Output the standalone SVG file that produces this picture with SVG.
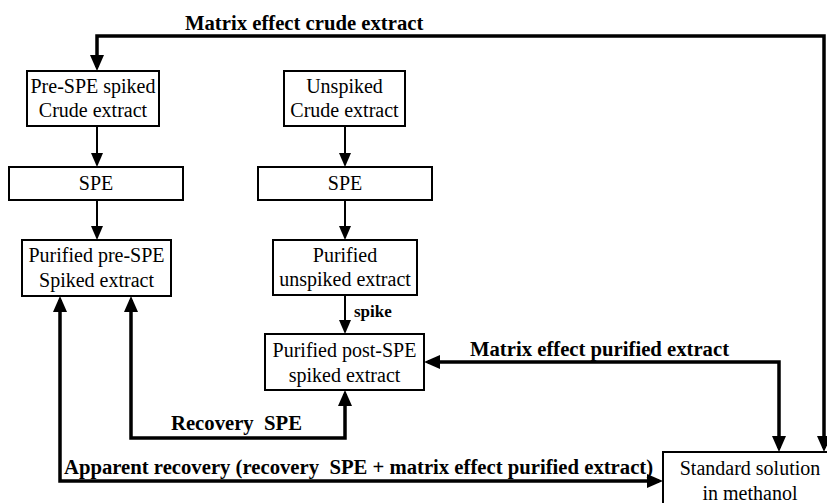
<svg xmlns="http://www.w3.org/2000/svg" width="827" height="503" viewBox="0 0 827 503">
<style>
  .box { fill: #fff; stroke: #000; stroke-width: 2; }
  .t { font-family: "Liberation Serif", "Times New Roman", serif; font-size: 20px; fill: #000; text-anchor: middle; }
  .b { font-family: "Liberation Serif", "Times New Roman", serif; font-size: 20.7px; font-weight: bold; fill: #000; white-space: pre; }
  .flow { fill: none; stroke: #000; stroke-width: 2; marker-end: url(#ah); }
  .meas { fill: none; stroke: #000; stroke-width: 3.5; marker-start: url(#AH); marker-end: url(#AH); }
</style>
<defs>
  <marker id="ah" viewBox="0 0 14 12" refX="11" refY="6" markerWidth="14" markerHeight="12" markerUnits="userSpaceOnUse" orient="auto-start-reverse">
    <path d="M0,0 L14,6 L0,12 z" fill="#000"/>
  </marker>
  <marker id="AH" viewBox="0 0 16 14" refX="12" refY="7" markerWidth="16" markerHeight="14" markerUnits="userSpaceOnUse" orient="auto-start-reverse">
    <path d="M0,0 L16,7 L0,14 z" fill="#000"/>
  </marker>
</defs>

<g id="connectors">
  <path class="flow" d="M97 126 V164"/>
  <path class="flow" d="M345 126 V164"/>
  <path class="flow" d="M97 200 V237"/>
  <path class="flow" d="M345 200 V237"/>
  <path class="flow" d="M345 295 V331"/>
  <path class="meas" d="M97 67 V36 H824 V448"/>
  <path class="meas" d="M428 362 H779 V448"/>
  <path class="meas" d="M131 300 V438 H345 V394"/>
  <path class="meas" d="M60 300 V481 H659"/>
  <text class="b" x="185" y="30">Matrix effect crude extract</text>
  <text class="b" x="470" y="356">Matrix effect purified extract</text>
  <text class="b" x="171" y="430">Recovery  SPE</text>
  <text class="b" x="64" y="474">Apparent recovery (recovery  SPE + matrix effect purified extract)</text>
  <text class="b" x="354" y="317" style="font-size:17px">spike</text>
</g>

<g id="pre-spe-crude">
  <rect class="box" x="27" y="71" width="132" height="55"/>
  <text class="t" x="93" y="93">Pre-SPE spiked</text>
  <text class="t" x="93" y="117">Crude extract</text>
</g>
<g id="unspiked-crude">
  <rect class="box" x="284" y="71" width="121" height="55"/>
  <text class="t" x="344.5" y="93">Unspiked</text>
  <text class="t" x="344.5" y="117">Crude extract</text>
</g>
<g id="spe-1">
  <rect class="box" x="9" y="167" width="174" height="33"/>
  <text class="t" x="96" y="190">SPE</text>
</g>
<g id="spe-2">
  <rect class="box" x="258" y="167" width="174" height="33"/>
  <text class="t" x="345" y="190">SPE</text>
</g>
<g id="purified-pre-spe">
  <rect class="box" x="22" y="240" width="149" height="56"/>
  <text class="t" x="96.5" y="262">Purified pre-SPE</text>
  <text class="t" x="96.5" y="287">Spiked extract</text>
</g>
<g id="purified-unspiked">
  <rect class="box" x="273" y="240" width="144" height="55"/>
  <text class="t" x="345" y="262">Purified</text>
  <text class="t" x="345" y="286">unspiked extract</text>
</g>
<g id="purified-post-spe">
  <rect class="box" x="265" y="334" width="159" height="56"/>
  <text class="t" x="344.5" y="357">Purified post-SPE</text>
  <text class="t" x="344.5" y="382">spiked extract</text>
</g>
<g id="standard-solution">
  <rect class="box" x="663" y="452" width="180" height="70"/>
  <text class="t" x="750" y="475">Standard solution</text>
  <text class="t" x="750" y="500">in methanol</text>
</g>
</svg>
